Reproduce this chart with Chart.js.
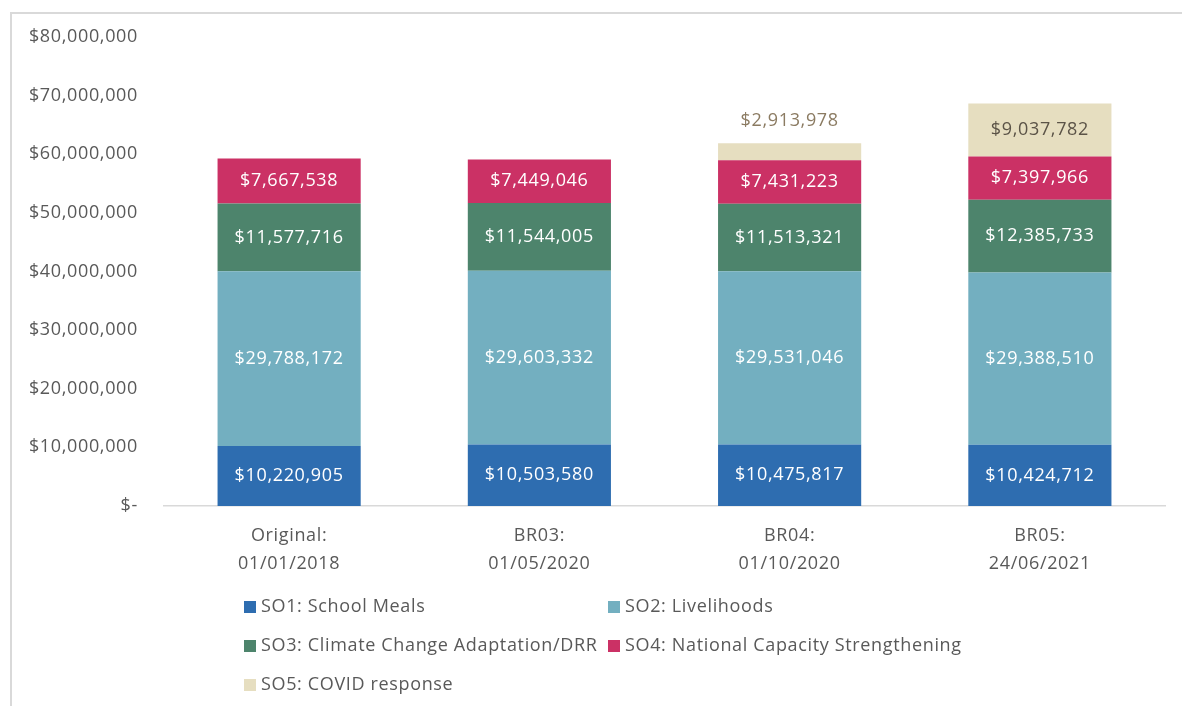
<!DOCTYPE html>
<html>
  <head>
    <meta charset="UTF-8">
    <title>Budget revisions by strategic outcome</title>
    <script src="https://cdn.jsdelivr.net/npm/chart.js@4.4.1/dist/chart.umd.min.js"></script>
    <style>
      html, body {
        margin: 0;
        padding: 0;
        background: #ffffff;
        overflow: hidden;
      }
      .frame {
        position: absolute;
        left: 10px;
        top: 12px;
        width: 1300px;
        height: 800px;
        border: 2px solid #d9d9d9;
      }
      .chartWrapper {
        position: absolute;
        left: 0;
        top: 0;
        width: 1182px;
        height: 706px;
      }
    </style>
  </head>
  <body>
    <div class="frame"></div>
    <div class="chartWrapper">
      <canvas id="chartBudget"></canvas>
    </div>

    <script>
      // categories (two-line tick labels)
      const categories = [
        ['Original:', '01/01/2018'],
        ['BR03:', '01/05/2020'],
        ['BR04:', '01/10/2020'],
        ['BR05:', '24/06/2021']
      ];

      const seriesNames = [
        'SO1: School Meals',
        'SO2: Livelihoods',
        'SO3: Climate Change Adaptation/DRR',
        'SO4: National Capacity Strengthening',
        'SO5: COVID response'
      ];

      const so1 = [10220905, 10503580, 10475817, 10424712];
      const so2 = [29788172, 29603332, 29531046, 29388510];
      const so3 = [11577716, 11544005, 11513321, 12385733];
      const so4 = [7667538, 7449046, 7431223, 7397966];
      const so5 = [null, null, 2913978, 9037782];

      const colors = ['#2e6db0', '#73afc0', '#4d846c', '#cb3165', '#e6dec0'];

      const FONT = '"Open Sans", "Noto Sans", sans-serif';
      const SPACING = '0.65px';

      function money(v) {
        return '$' + Math.round(v).toLocaleString('en-US');
      }

      // the original text is a bit wider than plain Open Sans
      const letterSpacing = {
        id: 'letterSpacing',
        beforeDraw(chart) {
          chart.ctx.letterSpacing = SPACING;
        }
      };

      // value labels inside each segment (SO5 goes above the bar if it is too thin)
      const segmentLabels = {
        id: 'segmentLabels',
        afterDatasetsDraw(chart) {
          const ctx = chart.ctx;
          ctx.save();
          ctx.letterSpacing = SPACING;
          ctx.font = '18px ' + FONT;
          ctx.textAlign = 'center';
          ctx.textBaseline = 'middle';
          chart.data.datasets.forEach((ds, di) => {
            const meta = chart.getDatasetMeta(di);
            meta.data.forEach((bar, i) => {
              const v = ds.data[i];
              if (v == null) return;
              const top = Math.min(bar.y, bar.base);
              const h = Math.abs(bar.base - bar.y);
              if (di === 4) {
                if (h < 26) {
                  ctx.fillStyle = '#8b7b62';
                  ctx.fillText(money(v), bar.x, top - 22);
                } else {
                  ctx.fillStyle = '#5b5347';
                  ctx.fillText(money(v), bar.x, top + h / 2);
                }
              } else {
                ctx.fillStyle = '#ffffff';
                ctx.fillText(money(v), bar.x, top + h / 2);
              }
            });
          });
          ctx.restore();
        }
      };

      // legend laid out in two left-aligned columns like the original
      const gridLegend = {
        id: 'gridLegend',
        afterDraw(chart) {
          const ctx = chart.ctx;
          const cols = [244, 608];
          const rows = [607, 646, 685];
          ctx.save();
          ctx.letterSpacing = SPACING;
          ctx.font = '18px ' + FONT;
          ctx.textAlign = 'left';
          ctx.textBaseline = 'middle';
          chart.data.datasets.forEach((ds, i) => {
            const x = cols[i % 2];
            const y = rows[Math.floor(i / 2)];
            ctx.fillStyle = ds.backgroundColor;
            ctx.fillRect(x, y - 6, 12, 12);
            ctx.fillStyle = '#595959';
            ctx.fillText(ds.label, x + 17, y);
          });
          ctx.restore();
        }
      };

      const seriesData = [so1, so2, so3, so4, so5];
      const datasets = seriesData.map((d, i) => ({
        label: seriesNames[i],
        data: d,
        backgroundColor: colors[i],
        borderWidth: 0,
        categoryPercentage: 1,
        barPercentage: 0.572
      }));

      new Chart(document.getElementById('chartBudget'), {
        type: 'bar',
        data: {
          labels: categories,
          datasets: datasets
        },
        options: {
          responsive: true,
          maintainAspectRatio: false,
          animation: false,
          layout: {
            padding: { top: 36, right: 17, left: 0, bottom: 0 }
          },
          scales: {
            x: {
              stacked: true,
              grid: { display: false },
              border: { display: true, color: '#d9d9d9', width: 1.5 },
              ticks: {
                color: '#595959',
                font: { family: FONT, size: 18, lineHeight: 1.55 },
                padding: 8,
                maxRotation: 0
              },
              afterFit(scale) {
                scale.height = 200;
              }
            },
            y: {
              stacked: true,
              min: 0,
              max: 80000000,
              grid: { display: false, drawTicks: false },
              border: { display: false },
              ticks: {
                stepSize: 10000000,
                color: '#595959',
                font: { family: FONT, size: 18 },
                padding: 26,
                callback: (v) => v === 0 ? '$-' : money(v)
              },
              afterFit(scale) {
                scale.width = 164;
              }
            }
          },
          plugins: {
            legend: { display: false },
            tooltip: { enabled: false }
          }
        },
        plugins: [letterSpacing, segmentLabels, gridLegend]
      });
    </script>
  </body>
</html>
